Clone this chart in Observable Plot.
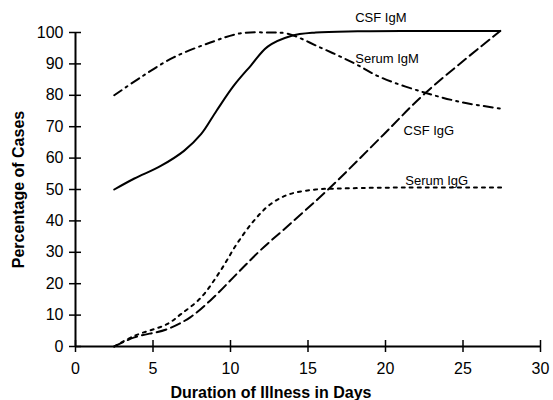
<!DOCTYPE html>
<html><head><meta charset="utf-8">
<script src="https://cdn.jsdelivr.net/npm/d3@7"></script>
<script src="https://cdn.jsdelivr.net/npm/@observablehq/plot@0.6"></script>
<style>body{margin:0;background:#fff;} svg{display:block}</style>
</head><body><div id="chart"></div>
<script>
const xTicks = [0, 5, 10, 15, 20, 25, 30];
const yTicks = [0, 10, 20, 30, 40, 50, 60, 70, 80, 90, 100];

const csfIgmDay = [2.5, 3.8, 5.5, 7.0, 8.1, 9.1, 10.2, 11.3, 12.4, 13.9, 15.5, 18.2, 22, 27.4];
const csfIgmPct = [50, 53.5, 57.5, 62.3, 67.6, 75.1, 83, 89.4, 95.5, 98.9, 100, 100.4, 100.5, 100.5];

const serumIgmDay = [2.5, 4.2, 6.3, 8.7, 10.6, 12.4, 13.7, 15.8, 17.9, 19.7, 22.5, 25, 27.4];
const serumIgmPct = [80, 85.7, 92, 96.8, 99.7, 100, 99.6, 95.2, 90.4, 85.7, 80.9, 77.7, 75.8];

const csfIggDay = [2.5, 3.8, 5.9, 7.4, 8.9, 10.4, 11.9, 13.7, 16.3, 19.9, 22.5, 27.4];
const csfIggPct = [0, 2.9, 5.5, 9.3, 15.6, 23.1, 30.5, 38.4, 50, 67.6, 80.4, 100.5];

const serumIggDay = [2.5, 3.8, 5.9, 6.8, 8.1, 9.35, 10.4, 11.5, 12.6, 13.8, 15.5, 17, 20.3, 27.6];
const serumIggPct = [0, 3.4, 7.1, 10.3, 15.6, 24.1, 32.6, 40, 45.4, 48.5, 50, 50.3, 50.6, 50.6];

const seriesLabels = ["CSF IgM", "Serum IgM", "CSF IgG", "Serum IgG"];
const labelDay = [19.7, 20.1, 22.8, 23.3];
const labelPct = [104.6, 91.5, 68.7, 52.8];

const xTitle = "Duration of Illness in Days";
const yTitle = "Percentage of Cases";

const toRows = (xs, ys) => xs.map((x, i) => ({x, y: ys[i]}));
const labelRows = seriesLabels.map((t, i) => ({t, x: labelDay[i], y: labelPct[i]}));

const chart = Plot.plot({
  width: 553, height: 400,
  marginLeft: 75, marginRight: 13, marginTop: 32, marginBottom: 54,
  style: {fontFamily: "'Liberation Sans', Arial, sans-serif", fontSize: "16px", color: "#000", background: "#fff"},
  x: {domain: [0, 30]},
  y: {domain: [0, 100]},
  marks: [
    Plot.axisY({ticks: yTicks, tickSize: 12, dx: 6, tickPadding: 6, label: null, strokeWidth: 1.5}),
    Plot.axisX({ticks: xTicks, tickSize: 12, dy: -6, tickPadding: 10, label: null, strokeWidth: 1.5}),
    Plot.ruleX([0], {strokeWidth: 2}),
    Plot.ruleY([0], {strokeWidth: 2}),
    Plot.line(toRows(csfIgmDay, csfIgmPct), {x: "x", y: "y", curve: "catmull-rom", strokeWidth: 2}),
    Plot.line(toRows(serumIgmDay, serumIgmPct), {x: "x", y: "y", curve: "catmull-rom", strokeWidth: 2, strokeDasharray: "9,5,2,5"}),
    Plot.line(toRows(csfIggDay, csfIggPct), {x: "x", y: "y", curve: "catmull-rom", strokeWidth: 2, strokeDasharray: "10,5"}),
    Plot.line(toRows(serumIggDay, serumIggPct), {x: "x", y: "y", curve: "catmull-rom", strokeWidth: 2, strokeDasharray: "3,5"}),
    Plot.text(labelRows, {x: "x", y: "y", text: "t", fontSize: 13, textAnchor: "middle", lineAnchor: "middle"}),
    Plot.text([xTitle], {frameAnchor: "bottom", dy: 46, dx: -37, fontWeight: "bold", fontSize: 16, lineAnchor: "middle", textAnchor: "middle"}),
    Plot.text([yTitle], {frameAnchor: "left", dx: -57, rotate: -90, fontWeight: "bold", fontSize: 16, lineAnchor: "middle", textAnchor: "middle"})
  ]
});
document.getElementById("chart").appendChild(chart);
</script>
</body></html>
